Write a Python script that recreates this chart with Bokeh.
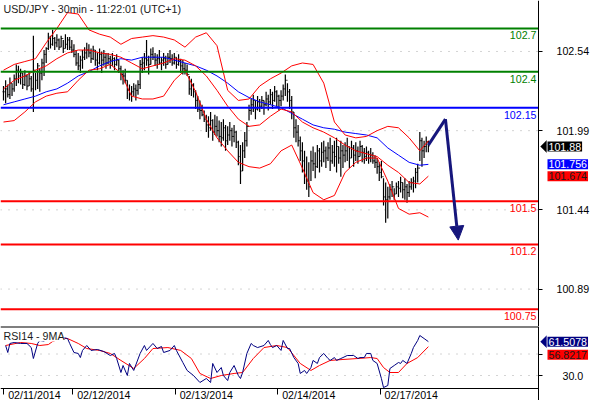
from bokeh.plotting import figure
from bokeh.layouts import column
from bokeh.models import (FixedTicker, Range1d, Label, Arrow, NormalHead, LinearAxis,
                          PolyAnnotation, PrintfTickFormatter)
from bokeh.embed import file_html
from bokeh.resources import INLINE

# ---------------- data (USD/JPY, 30-min bars, 02/11 07:30 -> 02/17 11:00) ----------------
highs = [102.30, 102.34, 102.31, 102.36, 102.32, 102.38, 102.45, 102.44, 102.42, 102.39,
         102.41, 102.38, 102.40, 102.37, 102.65, 102.39, 102.46, 102.42, 102.49, 102.55,
         102.57, 102.67, 102.65, 102.69, 102.64, 102.66, 102.63, 102.65, 102.62, 102.66,
         102.64, 102.64, 102.62, 102.59, 102.55, 102.53, 102.51, 102.55, 102.57, 102.60,
         102.59, 102.56, 102.58, 102.55, 102.53, 102.56, 102.54, 102.55, 102.53, 102.53,
         102.51, 102.53, 102.50, 102.52, 102.48, 102.44, 102.41, 102.42, 102.34, 102.31,
         102.30, 102.32, 102.31, 102.34, 102.48, 102.50, 102.53, 102.62, 102.51, 102.56,
         102.57, 102.53, 102.52, 102.55, 102.50, 102.53, 102.51, 102.53, 102.55, 102.52,
         102.53, 102.50, 102.52, 102.49, 102.48, 102.46, 102.45, 102.37, 102.35, 102.32,
         102.27, 102.23, 102.20, 102.17, 102.13, 102.10, 102.09, 102.12, 102.07, 102.10,
         102.09, 102.06, 102.05, 102.07, 102.03, 102.02, 102.05, 102.01, 102.03, 101.99,
         101.92, 101.89, 101.91, 101.98, 102.05, 102.17, 102.21, 102.24, 102.20, 102.23,
         102.21, 102.23, 102.20, 102.26, 102.24, 102.28, 102.26, 102.30, 102.27, 102.24,
         102.27, 102.31, 102.38, 102.32, 102.28, 102.23, 102.12, 102.07, 102.03, 101.95,
         101.91, 101.85, 101.81, 101.77, 101.85, 101.88, 101.84, 101.89, 101.87, 101.91,
         101.92, 101.88, 101.91, 101.94, 101.89, 101.92, 101.94, 101.88, 101.92, 101.89,
         101.91, 101.94, 101.88, 101.92, 101.89, 101.91, 101.88, 101.92, 101.89, 101.87,
         101.88, 101.85, 101.87, 101.84, 101.82, 101.80, 101.77, 101.78, 101.66, 101.63,
         101.60, 101.62, 101.64, 101.59, 101.63, 101.64, 101.67, 101.63, 101.66, 101.62,
         101.64, 101.66, 101.67, 101.73, 101.76, 101.98, 101.94, 101.92, 101.95, 101.92]
lows = [102.20, 102.18, 102.22, 102.21, 102.23, 102.26, 102.30, 102.32, 102.31, 102.28,
        102.30, 102.27, 102.30, 102.26, 102.12, 102.27, 102.28, 102.26, 102.34, 102.37,
        102.46, 102.55, 102.56, 102.58, 102.55, 102.57, 102.55, 102.57, 102.53, 102.56,
        102.55, 102.55, 102.53, 102.50, 102.44, 102.41, 102.39, 102.42, 102.48, 102.49,
        102.50, 102.46, 102.48, 102.44, 102.41, 102.45, 102.39, 102.44, 102.42, 102.45,
        102.42, 102.44, 102.41, 102.44, 102.39, 102.34, 102.31, 102.32, 102.21, 102.20,
        102.19, 102.23, 102.20, 102.24, 102.28, 102.39, 102.41, 102.44, 102.38, 102.45,
        102.48, 102.44, 102.42, 102.45, 102.41, 102.44, 102.42, 102.45, 102.46, 102.44,
        102.45, 102.42, 102.44, 102.39, 102.38, 102.38, 102.37, 102.24, 102.23, 102.22,
        102.14, 102.12, 102.07, 102.09, 102.05, 101.98, 101.94, 101.99, 101.92, 101.96,
        101.95, 101.91, 101.88, 101.92, 101.85, 101.89, 101.92, 101.88, 101.91, 101.87,
        101.75, 101.62, 101.71, 101.80, 101.88, 102.06, 102.10, 102.12, 102.07, 102.13,
        102.12, 102.14, 102.10, 102.16, 102.13, 102.17, 102.14, 102.19, 102.16, 102.13,
        102.16, 102.20, 102.23, 102.19, 102.14, 102.07, 101.94, 101.91, 101.88, 101.78,
        101.70, 101.62, 101.58, 101.53, 101.64, 101.71, 101.66, 101.73, 101.70, 101.74,
        101.77, 101.73, 101.78, 101.71, 101.76, 101.74, 101.70, 101.76, 101.67, 101.73,
        101.77, 101.78, 101.73, 101.80, 101.74, 101.78, 101.76, 101.81, 101.77, 101.76,
        101.78, 101.76, 101.77, 101.76, 101.73, 101.69, 101.64, 101.66, 101.47, 101.35,
        101.38, 101.51, 101.53, 101.51, 101.55, 101.53, 101.56, 101.52, 101.51, 101.49,
        101.53, 101.58, 101.56, 101.59, 101.63, 101.78, 101.74, 101.80, 101.84, 101.84]
closes = [102.26, 102.28, 102.24, 102.32, 102.28, 102.35, 102.41, 102.37, 102.39, 102.31,
          102.37, 102.30, 102.35, 102.28, 102.41, 102.34, 102.44, 102.39, 102.46, 102.52,
          102.56, 102.64, 102.59, 102.63, 102.60, 102.62, 102.57, 102.63, 102.56, 102.59,
          102.62, 102.57, 102.55, 102.52, 102.46, 102.44, 102.48, 102.50, 102.53, 102.55,
          102.53, 102.49, 102.55, 102.48, 102.46, 102.52, 102.48, 102.50, 102.46, 102.49,
          102.48, 102.49, 102.45, 102.48, 102.42, 102.38, 102.37, 102.34, 102.27, 102.24,
          102.26, 102.28, 102.27, 102.31, 102.45, 102.46, 102.49, 102.48, 102.45, 102.52,
          102.50, 102.48, 102.49, 102.46, 102.48, 102.49, 102.45, 102.50, 102.49, 102.46,
          102.50, 102.45, 102.48, 102.44, 102.42, 102.41, 102.38, 102.28, 102.31, 102.26,
          102.20, 102.14, 102.13, 102.10, 102.07, 102.03, 102.01, 102.06, 101.98, 102.02,
          101.99, 101.95, 101.94, 102.01, 101.92, 101.96, 101.99, 101.95, 101.98, 101.91,
          101.81, 101.71, 101.85, 101.92, 102.02, 102.13, 102.17, 102.20, 102.14, 102.19,
          102.16, 102.20, 102.17, 102.21, 102.19, 102.24, 102.20, 102.26, 102.23, 102.20,
          102.23, 102.28, 102.34, 102.26, 102.20, 102.12, 102.01, 101.98, 101.92, 101.85,
          101.78, 101.67, 101.64, 101.60, 101.78, 101.76, 101.74, 101.85, 101.78, 101.84,
          101.85, 101.80, 101.87, 101.78, 101.84, 101.81, 101.88, 101.80, 101.85, 101.82,
          101.85, 101.88, 101.80, 101.87, 101.82, 101.85, 101.81, 101.88, 101.84, 101.81,
          101.84, 101.80, 101.82, 101.78, 101.77, 101.74, 101.70, 101.67, 101.53, 101.51,
          101.53, 101.58, 101.60, 101.55, 101.60, 101.59, 101.63, 101.58, 101.60, 101.56,
          101.60, 101.63, 101.64, 101.70, 101.73, 101.92, 101.85, 101.88, 101.91, 101.88]

band_idx = [0, 5, 10, 15, 20, 25, 30, 35, 40, 45, 50, 55, 60, 65, 70, 75, 80, 85, 90, 95,
            100, 105, 110, 115, 120, 125, 130, 135, 140, 145, 150, 155, 160, 165, 170, 175,
            180, 185, 190, 195, 199]
bb_upper = [102.41, 102.45, 102.47, 102.49, 102.60, 102.70, 102.81, 102.80, 102.69, 102.66,
            102.64, 102.59, 102.63, 102.64, 102.65, 102.64, 102.62, 102.57, 102.64, 102.67,
            102.58, 102.27, 102.20, 102.21, 102.30, 102.35, 102.39, 102.44, 102.46, 102.45,
            102.32, 102.05, 101.96, 101.94, 101.95, 101.99, 102.02, 102.01, 101.94, 101.85,
            101.92]
bb_mid = [102.28, 102.34, 102.37, 102.41, 102.44, 102.49, 102.53, 102.55, 102.55, 102.53,
          102.52, 102.50, 102.46, 102.42, 102.44, 102.46, 102.49, 102.48, 102.44, 102.37,
          102.27, 102.16, 102.07, 102.02, 102.03, 102.09, 102.14, 102.12, 102.05, 102.01,
          101.98, 101.94, 101.89, 101.85, 101.83, 101.81, 101.75, 101.70, 101.63, 101.62,
          101.674]
bb_lower = [102.05, 102.06, 102.12, 102.19, 102.23, 102.25, 102.26, 102.34, 102.41, 102.42,
            102.45, 102.39, 102.23, 102.21, 102.21, 102.23, 102.34, 102.41, 102.26, 102.07,
            101.94, 101.85, 101.77, 101.74, 101.73, 101.76, 101.85, 101.89, 101.73, 101.56,
            101.51, 101.54, 101.70, 101.77, 101.80, 101.80, 101.64, 101.45, 101.41, 101.42,
            101.39]
ma_blue = [102.17, 102.19, 102.21, 102.23, 102.26, 102.28, 102.32, 102.37, 102.40, 102.44,
           102.47, 102.49, 102.48, 102.50, 102.50, 102.50, 102.48, 102.46, 102.44, 102.41,
           102.37, 102.32, 102.26, 102.22, 102.19, 102.17, 102.15, 102.11, 102.07, 102.03,
           102.01, 102.00, 101.98, 101.97, 101.96, 101.94, 101.87, 101.82, 101.77, 101.75,
           101.756]

rsi_idx = [1, 2, 3, 5, 8, 11, 13, 14, 16, 17, 19, 22, 25, 28, 30, 31, 33, 35, 36, 37,
           39, 41, 44, 47, 50, 52, 53, 55, 56, 58, 59, 61, 64, 66, 67, 70, 72, 74, 75, 78,
           80, 81, 84, 86, 89, 92, 95, 97, 98, 100, 102, 103, 105, 106, 108, 110, 111, 112,
           114, 116, 117, 119, 122, 124, 125, 126, 128, 130, 131, 133, 134, 136, 138, 139,
           141, 142, 144, 145, 147, 148, 150, 152, 153, 155, 156, 158, 159, 161, 164, 166,
           167, 169, 170, 172, 173, 175, 177, 178, 180, 181, 183, 185, 186, 187, 189, 191,
           192, 194, 195, 197, 199]
rsi_vals = [57.9, 51.4, 59.8, 60.7, 59.8, 59.8, 56.0, 45.8, 59.8, 62.6, 61.6, 69.0, 70.0,
            65.3, 64.4, 59.8, 51.4, 50.5, 46.7, 53.3, 57.9, 53.3, 54.2, 52.3, 48.6, 50.5,
            45.8, 32.8, 39.3, 30.0, 41.2, 34.7, 50.5, 57.9, 53.3, 59.8, 55.1, 57.0, 51.4,
            53.3, 57.9, 53.3, 42.1, 34.7, 30.0, 23.5, 27.2, 23.5, 41.2, 32.8, 37.4, 30.0,
            25.3, 32.8, 39.3, 30.0, 27.2, 32.8, 50.5, 59.8, 57.9, 56.0, 57.9, 62.6, 58.8,
            56.0, 57.9, 53.3, 62.6, 55.1, 55.1, 46.7, 41.2, 31.9, 34.7, 31.9, 37.4, 44.0,
            41.2, 46.7, 50.5, 45.8, 44.0, 46.7, 44.0, 45.8, 46.7, 48.6, 48.6, 45.8, 46.7,
            46.7, 50.5, 50.5, 44.0, 41.2, 27.2, 18.8, 20.7, 36.5, 39.3, 42.1, 41.2, 44.0,
            41.2, 50.5, 56.0, 62.6, 67.2, 64.4, 61.5078]
rsi_ma_idx = [1, 8, 13, 17, 21, 23, 27, 30, 35, 39, 45, 50, 55, 61, 66, 70, 77, 83, 88, 92,
              97, 102, 108, 112, 117, 122, 128, 133, 139, 144, 148, 153, 159, 166, 172, 175,
              178, 181, 185, 189, 194, 199]
rsi_ma_vals = [57.9, 60.7, 59.8, 57.9, 58.8, 61.6, 64.4, 64.4, 59.8, 55.1, 53.3, 50.5, 44.0,
               36.5, 45.8, 55.1, 56.0, 53.3, 45.8, 31.9, 27.2, 30.0, 31.9, 32.8, 45.8, 56.0,
               57.9, 56.0, 41.2, 34.7, 39.3, 44.0, 44.9, 45.8, 46.7, 45.8, 37.4, 32.8, 32.8,
               41.2, 46.7, 56.8217]

levels = [102.7, 102.4, 102.15, 101.5, 101.2, 100.75]
level_labels = ["102.7", "102.4", "102.15", "101.5", "101.2", "100.75"]
level_colors = ["#008000", "#008000", "#0000ff", "#ff0000", "#ff0000", "#ff0000"]
price_ticks = [100.89, 101.44, 101.99, 102.54]
rsi_ticks = [30, 50]
day_ticks = [0.0, 32.5, 80.5, 128.5, 176.5]
day_labels = ["02/11/2014", "02/12/2014", "02/13/2014", "02/14/2014", "02/17/2014"]
forecast_x = [199, 207, 213]
forecast_y = [101.89, 102.07, 101.23]
last_price = 101.88
ma_last = 101.756
bb_last = 101.674
rsi_last = 61.5078
rsi_ma_last = 56.8217
title_text = "USD/JPY - 30min - 11:22:01 (UTC+1)"

# ---------------- styling constants ----------------
FONT = "Liberation Sans"
FS = "8pt"
W = 590
AXIS_PX = 538                      # pixel column of the price axis
PX_PER_BAR = 2.135
X0 = -3 / PX_PER_BAR               # left edge of the frame (bar-index units)
X1 = X0 + AXIS_PX / PX_PER_BAR     # position of the price axis
XE = X0 + W / PX_PER_BAR           # right edge of the frame
P_LO, P_HI = 100.630, 102.894
RSI_PX = 1.075                     # pixels per RSI point
R_HI = 30 + 49 / RSI_PX            # top of RSI panel (y=326)
R_BOT = 30 - 13 / RSI_PX           # bottom line of RSI panel (y=388)
R_LO = 30 - 25 / RSI_PX            # bottom of the figure (y=400)
TAG_X = X1 + 8 / PX_PER_BAR
TIP_X = X1 + 2 / PX_PER_BAR
LABEL_SHIFT = 14.5
NAVY = "#16167c"


def base_fig(h, yr):
    f = figure(width=W, height=h, x_range=Range1d(X0, XE), y_range=yr,
               output_backend="svg", toolbar_location=None,
               x_axis_location=None, y_axis_location=None,
               min_border_left=0, min_border_right=0, min_border_top=0, min_border_bottom=0)
    f.outline_line_color = None
    f.background_fill_color = "white"
    f.border_fill_color = "white"
    f.grid.visible = False
    return f


def style_axis(ax):
    ax.axis_line_color = "black"
    ax.major_tick_line_color = "black"
    ax.minor_tick_line_color = "black"
    ax.major_tick_in = 0
    ax.minor_tick_in = 0
    ax.minor_tick_out = 0
    ax.major_label_text_font = FONT
    ax.major_label_text_font_size = FS
    ax.major_label_text_color = "black"


def dotted_grid(fig, ticks):
    fig.segment(x0=[X0] * len(ticks), y0=ticks, x1=[X1] * len(ticks), y1=ticks,
                line_color="#a8a8a8", line_width=1, line_dash="1 7")


def tag(fig, yv, text, bg, fg, dy, y_off=0, pointer=False):
    if pointer:
        fig.add_layout(PolyAnnotation(xs=[TIP_X, TAG_X, TAG_X], ys=[yv, yv + dy, yv - dy],
                                      fill_color=bg, fill_alpha=1, line_color=bg))
    fig.add_layout(Label(x=TAG_X, y=yv, y_offset=y_off, text=text, text_align="left",
                         text_baseline="middle", x_offset=1, text_font=FONT,
                         text_font_size=FS, text_color=fg, background_fill_color=bg,
                         padding=1))


# ---------------- main price panel ----------------
p = base_fig(326, Range1d(P_LO, P_HI))
yax = LinearAxis(ticker=FixedTicker(ticks=price_ticks),
                 formatter=PrintfTickFormatter(format="%.2f"), fixed_location=X1)
style_axis(yax)
yax.major_tick_out = 4
yax.major_label_standoff = 14
p.add_layout(yax, "right")
dotted_grid(p, price_ticks)

idx = list(range(len(highs)))
opens = [closes[0]] + closes[:-1]
p.segment(x0=idx, y0=lows, x1=idx, y1=highs, line_color="black", line_width=1.2)
p.segment(x0=[i - 0.45 for i in idx], y0=opens, x1=idx, y1=opens, line_color="black", line_width=1)
p.segment(x0=idx, y0=closes, x1=[i + 0.45 for i in idx], y1=closes, line_color="black", line_width=1)

p.line(band_idx, ma_blue, line_color="#0000ff", line_width=1)
for band in (bb_upper, bb_mid, bb_lower):
    p.line(band_idx, band, line_color="#ff0000", line_width=1)

p.segment(x0=[X0] * len(levels), y0=levels, x1=[X1] * len(levels), y1=levels,
          line_color=level_colors, line_width=2)
for lv, lab, col in zip(levels, level_labels, level_colors):
    p.add_layout(Label(x=X1, y=lv, text=lab, text_align="right", text_baseline="top",
                       x_offset=-2, y_offset=-3, text_font=FONT, text_font_size=FS,
                       text_color=col))

p.line(forecast_x[:2], forecast_y[:2], line_color=NAVY, line_width=3)
p.add_layout(Arrow(end=NormalHead(size=14, fill_color=NAVY, line_color=NAVY),
                   x_start=forecast_x[1], y_start=forecast_y[1],
                   x_end=forecast_x[2], y_end=forecast_y[2],
                   line_color=NAVY, line_width=3))

p.add_layout(Label(x=X0, y=P_HI, x_offset=3, y_offset=-2, text=title_text,
                   text_baseline="top", text_font=FONT, text_font_size=FS,
                   text_color="#1a1a1a"))

tag(p, last_price, "101.88", "black", "white", 6 / 144, pointer=True)
tag(p, ma_last, "101.756", "#0000ff", "white", 0)
tag(p, bb_last, "101.674", "#ff0000", "#1a1a1a", 0)

# ---------------- RSI panel ----------------
r = base_fig(74, Range1d(R_LO, R_HI))
r.x_range = p.x_range
centers = [t + LABEL_SHIFT for t in day_ticks]
xax = LinearAxis(ticker=FixedTicker(ticks=centers, minor_ticks=day_ticks),
                 major_label_overrides={c: lab for c, lab in zip(centers, day_labels)},
                 fixed_location=R_BOT, bounds=(X0, X1))
style_axis(xax)
xax.major_tick_out = 0
xax.minor_tick_out = 6
xax.major_label_standoff = -6
r.add_layout(xax, "below")
rax = LinearAxis(ticker=FixedTicker(ticks=rsi_ticks), fixed_location=X1,
                 major_label_overrides={30: "30.0", 50: ""})
style_axis(rax)
rax.major_tick_out = 4
rax.major_label_standoff = 20
r.add_layout(rax, "right")
dotted_grid(r, rsi_ticks)
# top border of the RSI panel, drawn on the frame edge
r.segment(x0=[X0], y0=[R_HI], x1=[X1], y1=[R_HI], line_color="black", line_width=2)

r.line(rsi_ma_idx, rsi_ma_vals, line_color="#ff0000", line_width=1)
r.line(rsi_idx, rsi_vals, line_color="#000080", line_width=1)
r.add_layout(Label(x=X0, y=R_HI, x_offset=3, y_offset=-3, text="RSI14 - 9MA",
                   text_baseline="top", text_font=FONT, text_font_size=FS,
                   text_color="#1a1a1a", background_fill_color="white"))
tag(r, rsi_last, "61.5078", "#000080", "white", 6 / RSI_PX, pointer=True)
tag(r, rsi_last, "56.8217", "#ff0000", "#1a1a1a", 0, y_off=-13)

layout = column(p, r)
open("out.html", "w").write(file_html(layout, INLINE))
